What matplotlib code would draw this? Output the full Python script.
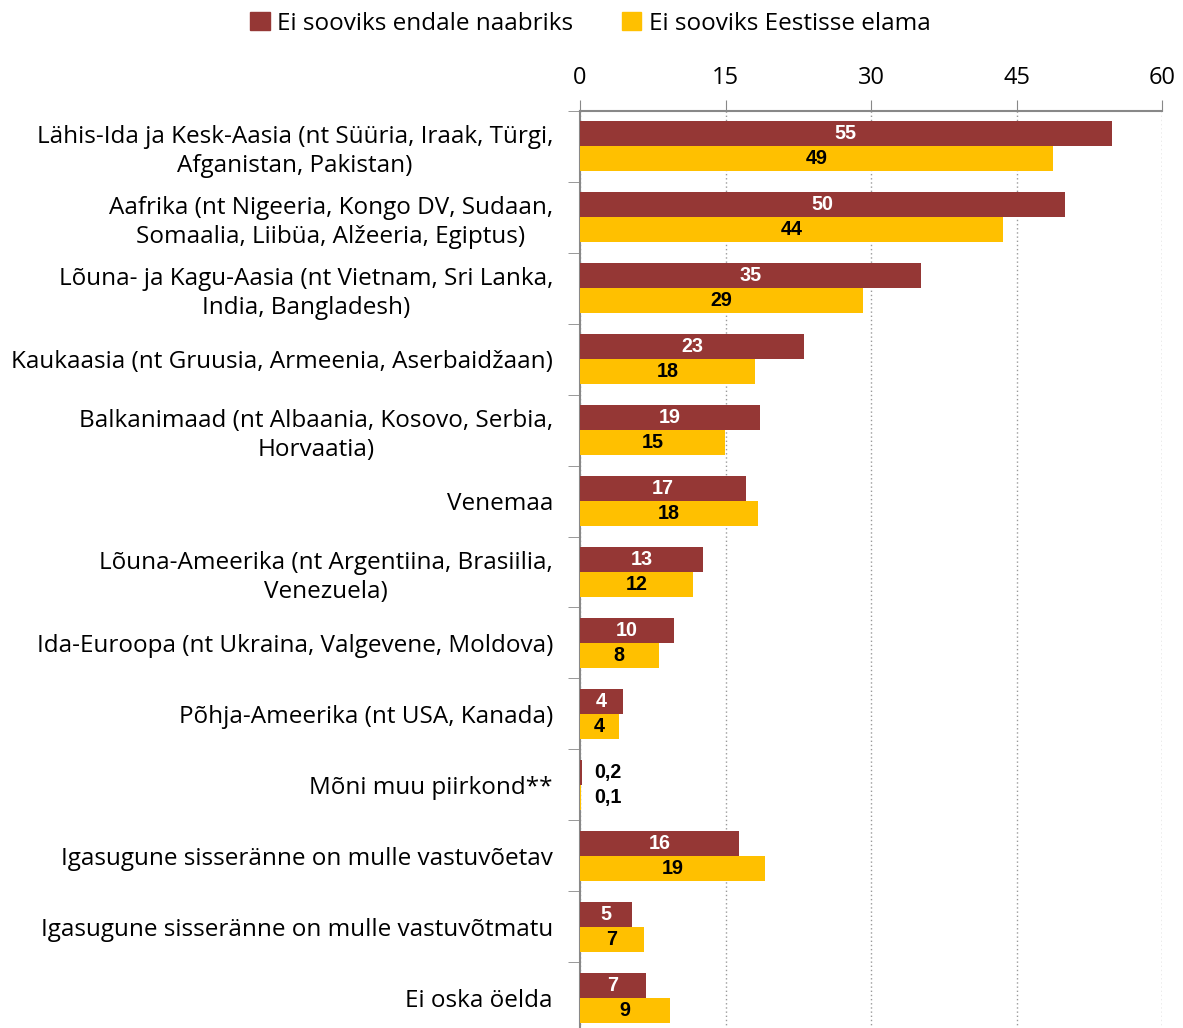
import matplotlib.pyplot as plt
from matplotlib.patches import Patch
from matplotlib.ticker import MultipleLocator
import numpy as np

categories = [
    "Lähis-Ida ja Kesk-Aasia (nt Süüria, Iraak, Türgi,\nAfganistan, Pakistan)",
    "Aafrika (nt Nigeeria, Kongo DV, Sudaan,\nSomaalia, Liibüa, Alžeeria, Egiptus)",
    "Lõuna- ja Kagu-Aasia (nt Vietnam, Sri Lanka,\nIndia, Bangladesh)",
    "Kaukaasia (nt Gruusia, Armeenia, Aserbaidžaan)",
    "Balkanimaad (nt Albaania, Kosovo, Serbia,\nHorvaatia)",
    "Venemaa",
    "Lõuna-Ameerika (nt Argentiina, Brasiilia,\nVenezuela)",
    "Ida-Euroopa (nt Ukraina, Valgevene, Moldova)",
    "Põhja-Ameerika (nt USA, Kanada)",
    "Mõni muu piirkond**",
    "Igasugune sisseränne on mulle vastuvõetav",
    "Igasugune sisseränne on mulle vastuvõtmatu",
    "Ei oska öelda",
]
naaber = [54.8, 50.0, 35.2, 23.1, 18.6, 17.1, 12.7, 9.7, 4.4, 0.2, 16.4, 5.4, 6.8]
elama = [48.8, 43.6, 29.2, 18.0, 14.9, 18.4, 11.6, 8.1, 4.0, 0.1, 19.1, 6.6, 9.3]
series_names = ["Ei sooviks endale naabriks", "Ei sooviks Eestisse elama"]

red = "#953735"
yellow = "#FFC000"
font = "Open Sans"


def fmt(v):
    if v < 1:
        return f"{v:.1f}".replace(".", ",")
    return f"{v:.0f}"


fig = plt.figure(figsize=(11.83, 10.28), dpi=100)
ax = fig.add_axes([580 / 1183, -5 / 1028, 582 / 1183, 922 / 1028])

y = np.arange(len(categories))
h = 0.352
ax.barh(y - h / 2, naaber, height=h, color=red, zorder=3)
ax.barh(y + h / 2, elama, height=h, color=yellow, zorder=3)

lab_kw = dict(va="center", fontsize=14.2, fontweight="bold",
              family="Liberation Sans", zorder=4)
for yi, v in zip(y, naaber):
    if v < 1:
        ax.text(1.5, yi - h / 2, fmt(v), ha="left", color="black", **lab_kw)
    else:
        ax.text(v / 2, yi - h / 2, fmt(v), ha="center", color="white", **lab_kw)
for yi, v in zip(y, elama):
    if v < 1:
        ax.text(1.5, yi + h / 2, fmt(v), ha="left", color="black", **lab_kw)
    else:
        ax.text(v / 2, yi + h / 2, fmt(v), ha="center", color="black", **lab_kw)

ax.set_xlim(0, 60)
ax.set_ylim(len(categories) - 0.5, -0.5)
ax.xaxis.set_major_locator(MultipleLocator(15))
ax.xaxis.tick_top()
ax.tick_params(axis="x", direction="out", length=8, color="#888888", pad=7,
               labelsize=17)
for lab in ax.get_xticklabels():
    lab.set_family(font)

ax.set_yticks(y)
ax.set_yticklabels(categories, fontsize=17.5, family=font, linespacing=1.25)
for lab in ax.get_yticklabels():
    lab.set_multialignment("center")
ax.tick_params(axis="y", which="major", length=0, pad=19.5)
ax.set_yticks(np.arange(-0.5, len(categories), 1), minor=True)
ax.tick_params(axis="y", which="minor", length=9, color="#888888", direction="out")

ax.grid(axis="x", color="#999999", linestyle=(0, (1, 2)), linewidth=1, zorder=0)
for s in ["right", "bottom"]:
    ax.spines[s].set_visible(False)
for s in ["top", "left"]:
    ax.spines[s].set_color("#888888")
    ax.spines[s].set_linewidth(1.5)

handles = [Patch(color=red), Patch(color=yellow)]
fig.legend(handles, series_names, loc="upper center", bbox_to_anchor=(0.499, 1.01),
           ncol=2, frameon=False, prop={"family": font, "size": 17.5},
           handlelength=0.8, handleheight=0.8, handletextpad=0.3, columnspacing=2.0)

fig.savefig("out.png", dpi=100)
